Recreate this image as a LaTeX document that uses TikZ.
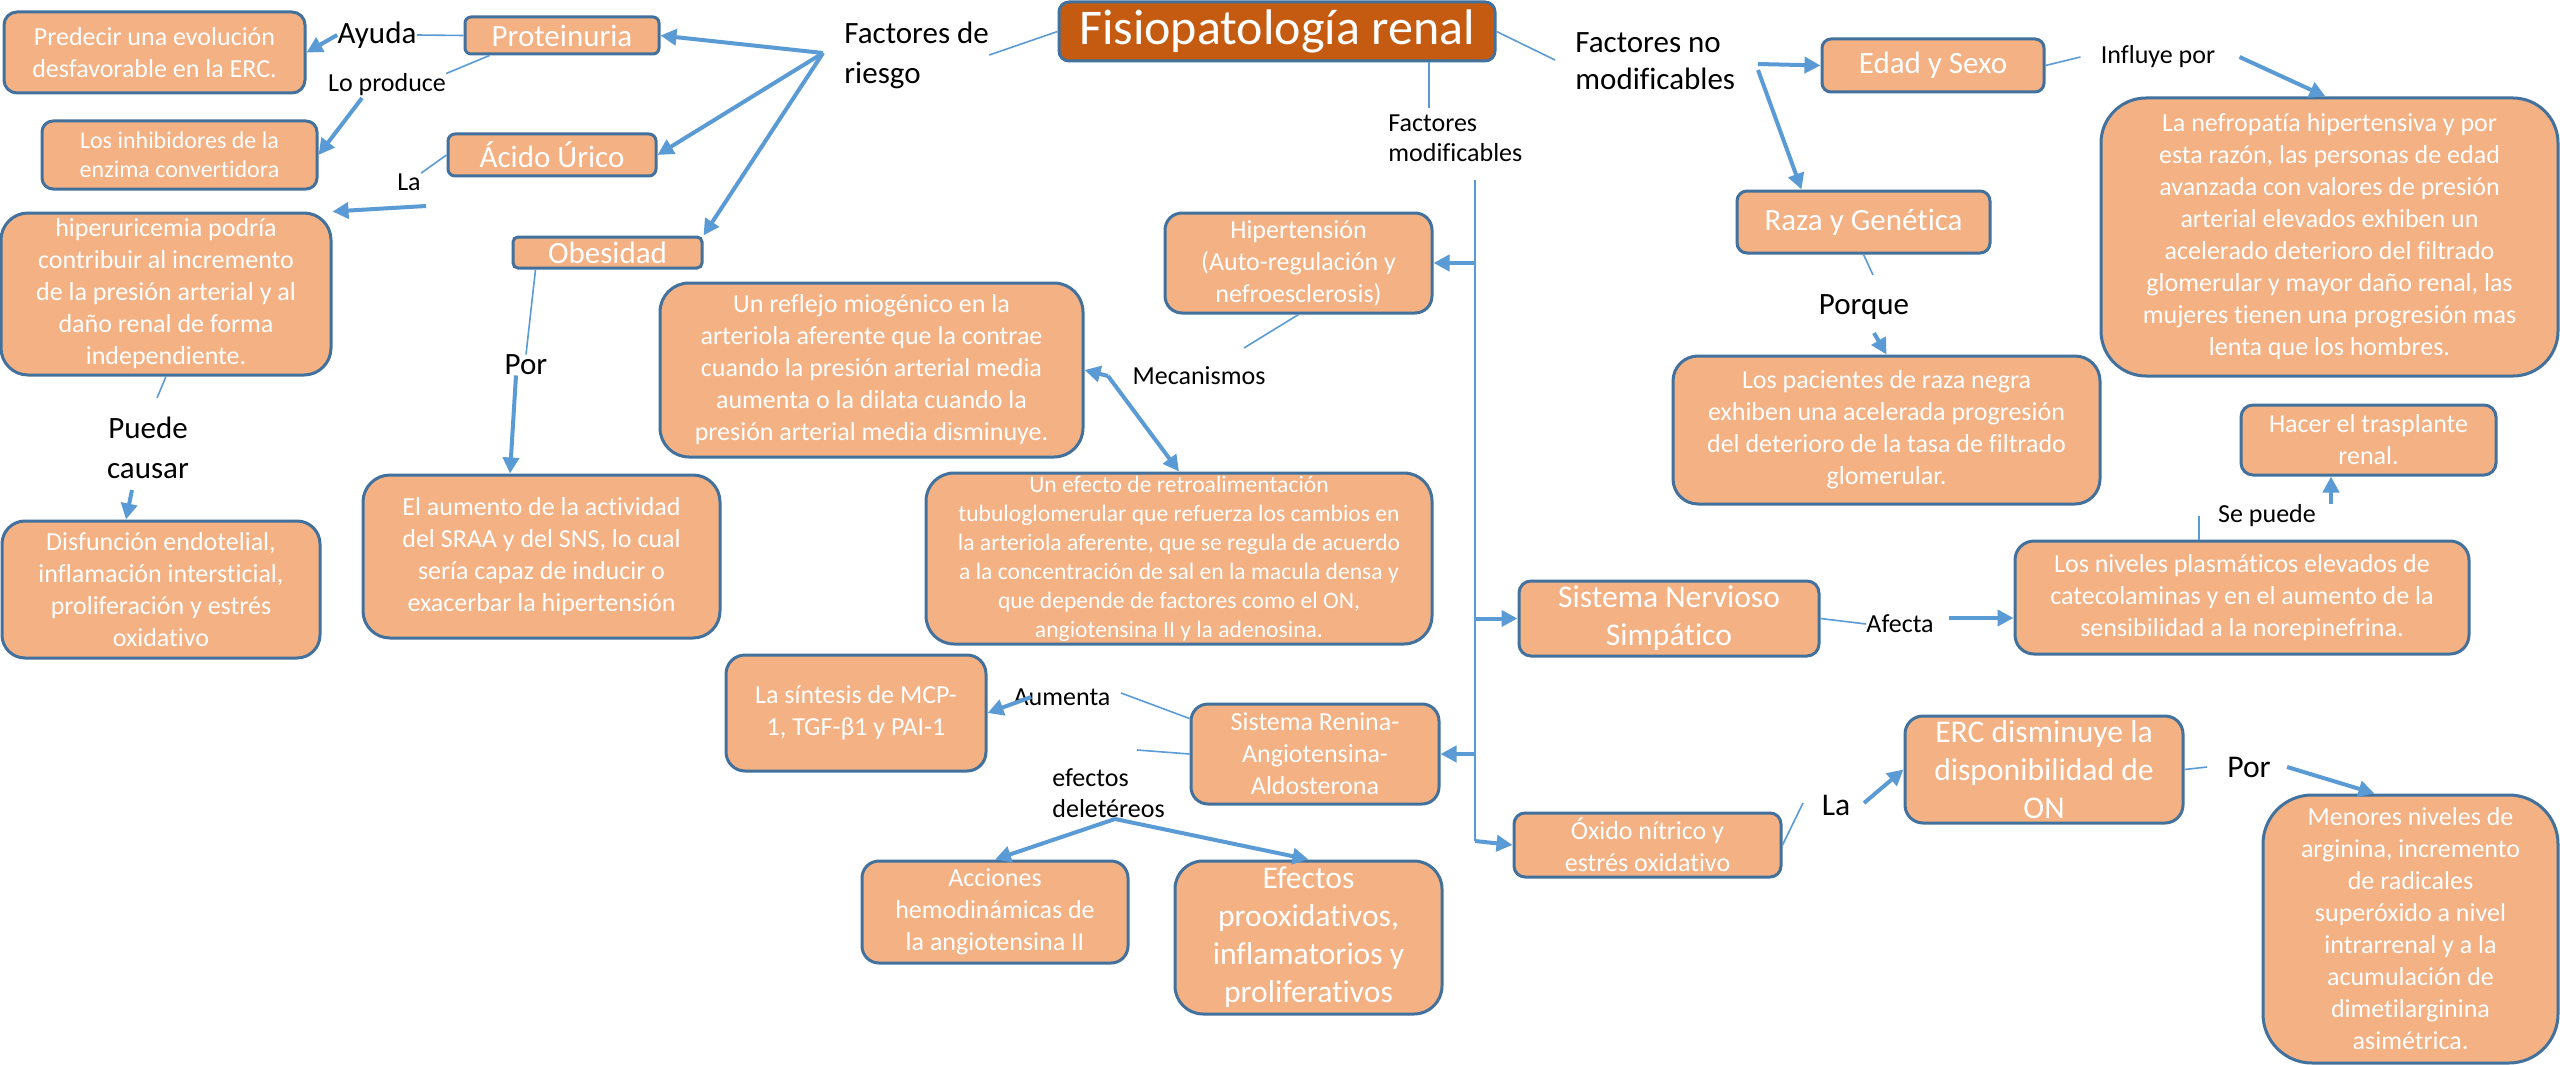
\documentclass[tikz,border=0pt]{standalone}
\usepackage{fontspec}
\setmainfont{Carlito}[Ligatures=NoCommon]
\usetikzlibrary{arrows.meta}
\definecolor{boxfill}{HTML}{F4B183}
\definecolor{bord}{HTML}{41719C}
\definecolor{lblue}{HTML}{5B9BD5}
\definecolor{titlefill}{HTML}{C55A11}
\newcommand{\zzbody}{\fontsize{13}{16}\selectfont}
\newcommand{\zzsmall}{\fontsize{11.8}{14.5}\selectfont}
\newcommand{\zzsmb}{\fontsize{12}{14.5}\selectfont}
\newcommand{\zzlarge}{\fontsize{15.5}{19}\selectfont}
\newcommand{\zzlab}{\fontsize{15.5}{20}\selectfont}
\newcommand{\zzbig}{\fontsize{15.8}{19}\selectfont}
\newcommand{\zztitle}{\fontsize{25}{30}\selectfont}
\tikzset{
  box/.style={draw=bord, fill=boxfill, line width=1.5pt, text=white, align=center, inner sep=0pt},
  lbl/.style={text=black, align=center, inner sep=0pt},
  thinl/.style={draw=lblue, line width=0.8pt},
  arr/.style={draw=lblue, line width=2pt, -{Triangle[length=8pt,width=8pt]}},
}
\begin{document}
\begin{tikzpicture}[x=0.5pt,y=-0.5pt]
\fill[white] (0,0) rectangle (2560,1065);
\useasboundingbox (0,0) rectangle (2560,1065);

% ---------- boxes ----------
\node[box,minimum width=150.5pt,minimum height=40.5pt,rounded corners=6.5pt,font=\zzbody] (pred) at (154.5,52.5) {Predecir una evolución\\desfavorable en la ERC.};
\node[box,minimum width=97pt,minimum height=18.5pt,rounded corners=3pt,font=\zzlarge] (prot) at (562,35.5) {Proteinuria};
\node[box,minimum width=137.5pt,minimum height=34pt,rounded corners=5.5pt,font=\zzsmb] (inhib) at (179.5,155) {Los inhibidores de la\\enzima convertidora};
\node[box,minimum width=104pt,minimum height=21pt,rounded corners=3.5pt,font=\zzlarge] (acido) at (552,155) {Ácido Úrico};
\node[box,minimum width=165pt,minimum height=81pt,rounded corners=13.5pt,font=\zzbody] (hiper) at (166,294) {hiperuricemia podría\\contribuir al incremento\\de la presión arterial y al\\daño renal de forma\\independiente.};
\node[box,minimum width=94.5pt,minimum height=15.5pt,rounded corners=2.5pt,font=\zzlarge] (obes) at (607.5,252.5) {Obesidad};
\node[box,minimum width=159pt,minimum height=68.5pt,rounded corners=11.5pt,font=\zzbody] (disf) at (161,589.5) {Disfunción endotelial,\\inflamación intersticial,\\proliferación y estrés\\oxidativo};
\node[box,minimum width=178.5pt,minimum height=81.5pt,rounded corners=13.5pt,font=\zzbody] (aum) at (541.5,556.5) {El aumento de la actividad\\del SRAA y del SNS, lo cual\\sería capaz de inducir o\\exacerbar la hipertensión};
\node[box,fill=titlefill,minimum width=218pt,minimum height=29.5pt,rounded corners=5pt,font=\zztitle] (title) at (1277,31.5) {Fisiopatología renal};
\node[box,minimum width=133.5pt,minimum height=50pt,rounded corners=8.5pt,font=\zzbody] (hip) at (1298.5,263) {Hipertensión\\(Auto-regulación y\\nefroesclerosis)};
\node[box,minimum width=211.5pt,minimum height=87pt,rounded corners=14.5pt,font=\zzbody] (refl) at (871.5,370) {Un reflejo miogénico en la\\arteriola aferente que la contrae\\cuando la presión arterial media\\aumenta o la dilata cuando la\\presión arterial media disminuye.};
\node[box,minimum width=253pt,minimum height=85.5pt,rounded corners=14pt,font=\zzsmall] (efec) at (1179,558.5) {Un efecto de retroalimentación\\tubuloglomerular que refuerza los cambios en\\la arteriola aferente, que se regula de acuerdo\\a la concentración de sal en la macula densa y\\que depende de factores como el ON,\\angiotensina II y la adenosina.};
\node[box,minimum width=130pt,minimum height=58pt,rounded corners=9.5pt,font=\zzbody] (sint) at (856,713) {La síntesis de MCP-\\1, TGF-β1 y PAI-1};
\node[box,minimum width=124pt,minimum height=50pt,rounded corners=8.5pt,font=\zzbody] (sraa) at (1315,754) {Sistema Renina-\\Angiotensina-\\Aldosterona};
\node[box,minimum width=133pt,minimum height=51pt,rounded corners=8.5pt,font=\zzbody] (acc) at (995,912) {Acciones\\hemodinámicas de\\la angiotensina II};
\node[box,minimum width=133.5pt,minimum height=76.5pt,rounded corners=14pt,font=\zzbig] (efx) at (1308.5,937.5) {Efectos\\prooxidativos,\\inflamatorios y\\proliferativos};
\node[box,minimum width=111pt,minimum height=26.5pt,rounded corners=4.5pt,font=\zzlarge] (edad) at (1933,65.5) {Edad y Sexo};
\node[box,minimum width=228.5pt,minimum height=139pt,rounded corners=22.5pt,font=\zzbody] (nefro) at (2329.5,237) {La nefropatía hipertensiva y por\\esta razón, las personas de edad\\avanzada con valores de presión\\arterial elevados exhiben un\\acelerado deterioro del filtrado\\glomerular y mayor daño renal, las\\mujeres tienen una progresión mas\\lenta que los hombres.};
\node[box,minimum width=126.5pt,minimum height=31pt,rounded corners=5pt,font=\zzlarge] (raza) at (1863.5,222) {Raza y Genética};
\node[box,minimum width=213.5pt,minimum height=74pt,rounded corners=12.5pt,font=\zzbody] (pac) at (1886.5,430) {Los pacientes de raza negra\\exhiben una acelerada progresión\\del deterioro de la tasa de filtrado\\glomerular.};
\node[box,minimum width=127.5pt,minimum height=35pt,rounded corners=6pt,font=\zzbody] (hacer) at (2368.5,440) {Hacer el trasplante\\renal.};
\node[box,minimum width=150pt,minimum height=37.5pt,rounded corners=6pt,font=\zzbig] (sns) at (1669,618.5) {Sistema Nervioso\\Simpático};
\node[box,minimum width=227pt,minimum height=56.5pt,rounded corners=9.5pt,font=\zzbody] (niv) at (2242,597.5) {Los niveles plasmáticos elevados de\\catecolaminas y en el aumento de la\\sensibilidad a la norepinefrina.};
\node[box,minimum width=133.5pt,minimum height=32pt,rounded corners=5.5pt,font=\zzbody] (oxi) at (1647.5,845) {Óxido nítrico y\\estrés oxidativo};
\node[box,minimum width=139pt,minimum height=53.5pt,rounded corners=9pt,font=\zzbig] (erc) at (2044,769.5) {ERC disminuye la\\disponibilidad de\\ON};
\node[box,minimum width=147.5pt,minimum height=134pt,rounded corners=24.5pt,font=\zzbody] (men) at (2410.5,929) {Menores niveles de\\arginina, incremento\\de radicales\\superóxido a nivel\\intrarrenal y a la\\acumulación de\\dimetilarginina\\asimétrica.};

% ---------- labels ----------
\node[lbl,font=\zzlarge] (ayuda) at (377,35) {Ayuda};
\node[lbl,font=\zzbody] (loprod) at (387,85) {Lo produce};
\node[lbl,font=\zzbody] (la1) at (409,182) {La};
\node[lbl,font=\zzlab,align=left,anchor=west] (factR) at (844,55) {Factores de\\riesgo};
\node[lbl,font=\zzlarge] (por1) at (526,365) {Por};
\node[lbl,font=\zzlab] (puede) at (148,448) {Puede\\causar};
\node[lbl,font=\fontsize{15.5}{18.5}\selectfont,align=left,anchor=west] (factNM) at (1575,61) {Factores no\\modificables};
\node[lbl,font=\fontsize{13}{15}\selectfont,align=left,anchor=west] (factM) at (1388,138) {Factores\\modificables};
\node[lbl,font=\zzbody] (mec) at (1199,376) {Mecanismos};
\node[lbl,font=\zzbody] (influ) at (2158,57) {Influye por};
\node[lbl,font=\zzlarge] (porque) at (1864,307) {Porque};
\node[lbl,font=\zzbody] (afecta) at (1900,624) {Afecta};
\node[lbl,font=\zzbody] (sepuede) at (2267,516) {Se puede};
\node[lbl,font=\zzbody] (aumenta) at (1062,697) {Aumenta};
\node[lbl,font=\fontsize{13}{15.5}\selectfont,align=left,anchor=west] (efdel) at (1052,793) {efectos\\deletéreos};
\node[lbl,font=\zzbig] (la2) at (1836,805) {La};
\node[lbl,font=\zzbig] (por2) at (2249,767) {Por};

% ---------- free-end coordinates ----------
\coordinate (jR) at (823,53);
\coordinate (lp2) at (362,98);
\coordinate (la1b) at (426,206);
\coordinate (pc1) at (157,398);
\coordinate (pc2) at (132,490);
\coordinate (nm1) at (1555,60);
\coordinate (jNM) at (1758,64);
\coordinate (fm1) at (1429,108);
\coordinate (trunkTop) at (1475,180);
\coordinate (trunkBot) at (1475,841);
\coordinate (mc1) at (1244,348);
\coordinate (jM) at (1108,376);
\coordinate (pq1) at (1873,275);
\coordinate (pq2) at (1874,333);
\coordinate (af2) at (1949,618);
\coordinate (sp1) at (2199,516);
\coordinate (sp2) at (2331,504);
\coordinate (au1) at (1121,693);
\coordinate (ed1) at (1137,750);
\coordinate (ed2) at (1115,819);
\coordinate (l2a) at (1803,803);
\coordinate (l2b) at (1864,803);

% ---------- connectors ----------
% factores de riesgo
\draw[thinl] (title.west) -- (factR.east);
\draw[arr] (jR) -- (prot.east);
\draw[arr] (jR) -- (acido.east);
\draw[arr] (jR) -- (obes.north east);
% proteinuria
\draw[thinl] (prot.west) -- (ayuda.east);
\draw[arr] (ayuda.west) -- (pred.east);
\draw[thinl] ([xshift=13pt]prot.south west) -- (loprod.north east);
\draw[arr] (lp2) -- (inhib.east);
% acido urico
\draw[thinl] (acido.west) -- (la1.north east);
\draw[arr] (la1b) -- (hiper.north east);
% hiperuricemia
\draw[thinl] (hiper.south) -- (pc1);
\draw[arr] (pc2) -- ([xshift=-17.5pt]disf.north);
% obesidad
\draw[thinl] ([xshift=-36pt]obes.south) -- (por1.north);
\draw[arr] ([xshift=-5pt]por1.south) -- ([xshift=-15.75pt]aum.north);
% factores no modificables
\draw[thinl] (title.east) -- (nm1);
\draw[arr] (jNM) -- (edad.west);
\draw[arr] ([yshift=-3pt]jNM) -- ([xshift=-31pt]raza.north);
\draw[thinl] (edad.east) -- ([xshift=-10pt]influ.west);
\draw[arr] ([xshift=12pt]influ.east) -- ([xshift=-2pt]nefro.north);
\draw[thinl] (raza.south) -- (pq1);
\draw[arr] (pq2) -- (pac.north);
% factores modificables
\draw[thinl] ([xshift=76pt]title.south) -- (fm1);
\draw[thinl] (trunkTop) -- (trunkBot);
\draw[arr] (trunkTop |- hip.east) -- (hip.east);
\draw[arr] (trunkTop |- sns.west) -- (sns.west);
\draw[arr] (trunkTop |- sraa.east) -- (sraa.east);
\draw[arr] (trunkBot) -- (oxi.west);
% hipertension
\draw[thinl] (hip.south) -- (mc1);
\draw[arr] (jM) -- (refl.east);
\draw[arr] (jM) -- (efec.north);
% SNS
\draw[thinl] (sns.east) -- (afecta.west);
\draw[arr] (af2) -- (af2 -| niv.west);
\draw[thinl] ([xshift=-21.5pt]niv.north) -- (sp1);
\draw[arr] (sp2) -- (sp2 |- hacer.south);
% SRAA
\draw[thinl] ([yshift=-8pt]sraa.north west) -- (au1);
\draw[arr] ([xshift=9pt]aumenta.west) -- (sint.east);
\draw[thinl] (sraa.west) -- (ed1);
\draw[arr] (ed2) -- (acc.north);
\draw[arr] (ed2) -- (efx.north);
% oxido nitrico
\draw[thinl] (oxi.east) -- (l2a);
\draw[arr] (l2b) -- (erc.west);
\draw[thinl] (erc.east) -- ([xshift=-10pt]por2.west);
\draw[arr] ([xshift=8pt]por2.east) -- ([xshift=-18pt]men.north);
\end{tikzpicture}
\end{document}
